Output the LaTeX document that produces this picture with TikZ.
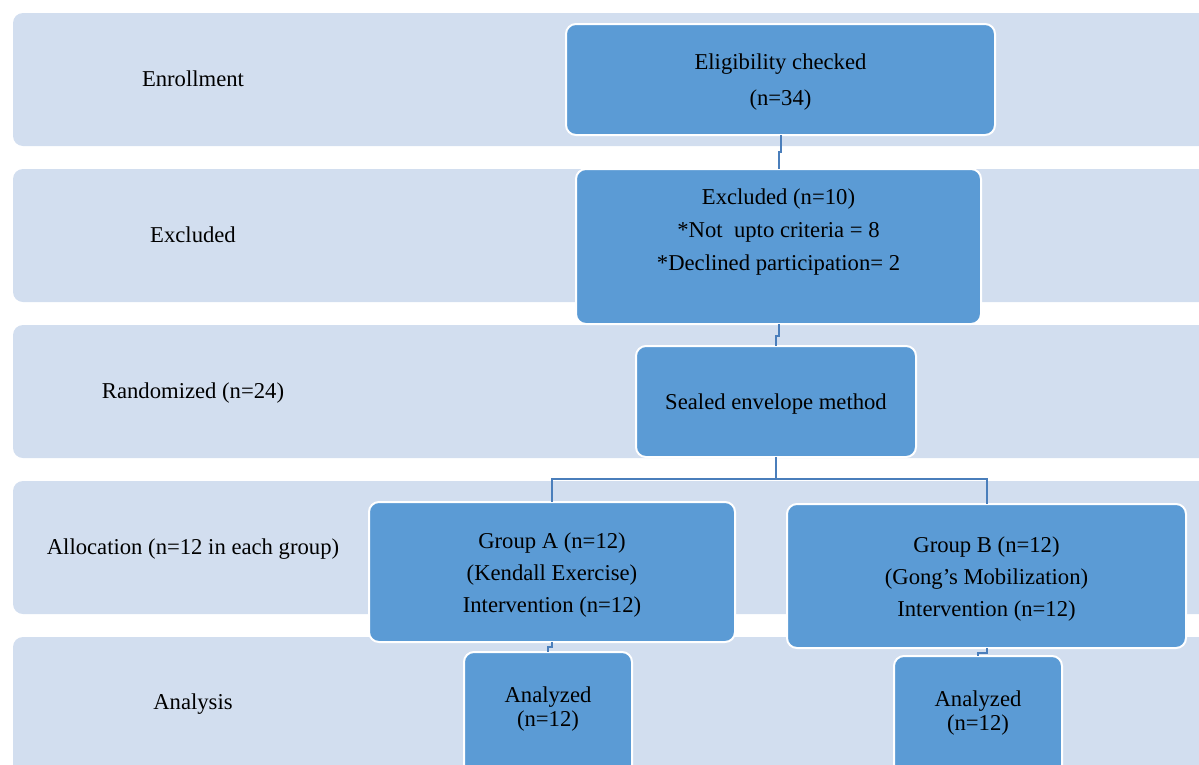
\documentclass[tikz,border=0pt]{standalone}
\usepackage{fontspec}
\setmainfont{Liberation Serif}
\definecolor{bandc}{RGB}{210,222,239}
\definecolor{boxc}{RGB}{91,155,213}
\definecolor{linec}{RGB}{74,126,187}
\begin{document}
\begin{tikzpicture}[x=0.75pt,y=-0.75pt,
  sz/.style 2 args={minimum width=#1*0.75pt, minimum height=#2*0.75pt},
  bandbox/.style={fill=bandc, rounded corners=7.5pt, inner sep=0pt, outer sep=0pt},
  flowbox/.style={draw=white, line width=1.5pt, fill=boxc, rounded corners=7.5pt, inner sep=0pt, outer sep=0pt},
  lbl/.style={font=\fontsize{17}{#1}\selectfont, align=center, inner sep=0pt},
  lbl/.default=25,
  conn/.style={draw=linec, line width=1.5pt}]
\useasboundingbox (0,0) rectangle (1199,764);
\clip (0,0) rectangle (1199,764);
% bands
\node[bandbox, sz={1217}{133}] (b1) at (621.5,79.5) {};
\node[bandbox, sz={1217}{133}] (b2) at (621.5,235.5) {};
\node[bandbox, sz={1217}{133}] (b3) at (621.5,391.5) {};
\node[bandbox, sz={1217}{133}] (b4) at (621.5,547.5) {};
\node[bandbox, sz={1217}{140}] (b5) at (621.5,707) {};
% band labels
\node[lbl] (l1) at (193,79) {Enrollment};
\node[lbl] (l2) at (193,235) {Excluded};
\node[lbl] (l3) at (193,393) {Randomized (n=24)};
\node[lbl] (l4) at (193,549) {Allocation (n=12 in each group)};
\node[lbl] (l5) at (193,704) {Analysis};
% boxes
\node[flowbox, sz={429}{111}] (elig) at (780.5,79.5) {};
\node[lbl=26.5] (eligt) at (780.5,82) {Eligibility checked\\(n=34)};
\node[flowbox, sz={405}{155}] (excl) at (778.5,246.5) {};
\node[lbl] (exclt) at (778.5,232) {Excluded (n=10)\\*Not\ \ upto criteria = 8\\*Declined participation= 2};
\node[flowbox, sz={280}{111}] (seal) at (776,401.5) {};
\node[lbl] (sealt) at (776,404) {Sealed envelope method};
\node[flowbox, sz={366}{140}] (grpA) at (552,572) {};
\node[lbl=24] (grpAt) at (552,575) {Group A (n=12)\\(Kendall Exercise)\\Intervention (n=12)};
\node[flowbox, sz={399}{144}] (grpB) at (986.5,576) {};
\node[lbl=24] (grpBt) at (986.5,579) {Group B (n=12)\\(Gong’s Mobilization)\\Intervention (n=12)};
\node[flowbox, sz={168}{138}] (anaA) at (548,721) {};
\node[lbl=18] (anaAt) at (548,709.5) {Analyzed\\(n=12)};
\node[flowbox, sz={168}{138}] (anaB) at (978,725) {};
\node[lbl=18] (anaBt) at (978,713.5) {Analyzed\\(n=12)};
% connectors
\draw[conn] (elig.south) -- ++(0,17) -| (excl.north);
\draw[conn] (excl.south) -- ++(0,12) -| (seal.north);
\draw[conn] (seal.south) -- ++(0,22) coordinate (split);
\draw[conn] (split) -| (grpA.north);
\draw[conn] (split) -| (grpB.north);
\draw[conn] (grpA.south) -- ++(0,5) -| (anaA.north);
\draw[conn] (grpB.south) -- ++(0,5) -| (anaB.north);
\end{tikzpicture}
\end{document}
